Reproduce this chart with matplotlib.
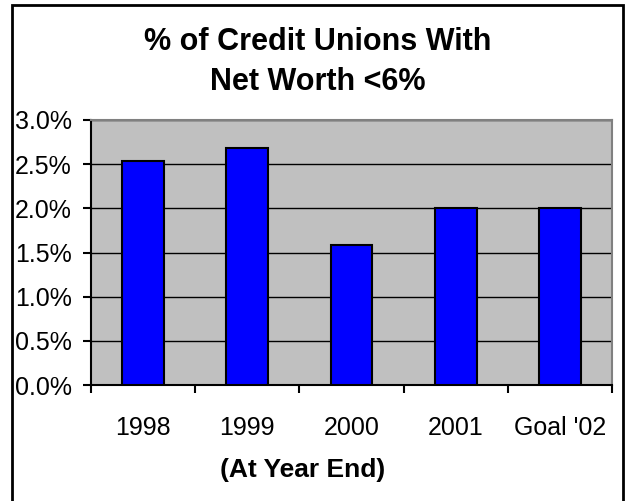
import matplotlib.pyplot as plt
from matplotlib.patches import Rectangle
from matplotlib.ticker import FuncFormatter

# share of credit unions below 6% net worth, by year end
years = ["1998", "1999", "2000", "2001", "Goal '02"]
pct_below_6 = [2.54, 2.68, 1.59, 2.0, 2.0]
y_ticks = [0.0, 0.5, 1.0, 1.5, 2.0, 2.5, 3.0]

plt.rcParams["font.family"] = ["Liberation Sans", "DejaVu Sans"]

fig = plt.figure(figsize=(6.26, 5.01), dpi=100)
ax = fig.add_axes([0.1454, 0.2315, 0.8323, 0.529])
ax.set_facecolor("#C0C0C0")

x = range(len(years))
ax.bar(x, pct_below_6, width=0.4, color="#0000FF", edgecolor="black",
       linewidth=1.5, zorder=3)

ax.set_ylim(0, 3.0)
ax.set_xlim(-0.5, len(years) - 0.5)
ax.set_yticks(y_ticks)
ax.yaxis.set_major_formatter(FuncFormatter(lambda v, p: f"{v:.1f}%"))
ax.yaxis.grid(True, color="black", linewidth=1.0, zorder=1)
ax.set_axisbelow(True)

# category labels in the middle, tick marks on the boundaries
ax.set_xticks([i - 0.5 for i in range(len(years) + 1)])
ax.set_xticklabels([])
ax.set_xticks(list(x), minor=True)
ax.set_xticklabels(years, minor=True)
ax.tick_params(axis="x", which="major", direction="out", length=6, width=1.5)
ax.tick_params(axis="x", which="minor", length=0, pad=22, labelsize=18)
ax.tick_params(axis="y", direction="out", length=6, width=1.5, pad=8,
               labelsize=18)

for side in ("left", "bottom"):
    ax.spines[side].set_color("black")
    ax.spines[side].set_linewidth(1.5)
for side in ("top", "right"):
    ax.spines[side].set_color("#808080")
    ax.spines[side].set_linewidth(1.5)

ax.set_xlabel("(At Year End)", fontsize=19, fontweight="bold")
ax.xaxis.set_label_coords(0.407, -0.276)

fig.text(0.507, 0.876, "% of Credit Unions With\nNet Worth <6%",
         ha="center", va="center", fontsize=22, fontweight="bold",
         linespacing=1.45)

# chart border
fig.patches.append(Rectangle((11.5 / 626, -0.05), 611 / 626, 1.05 - 5.5 / 501,
                             transform=fig.transFigure, fill=False,
                             edgecolor="black", linewidth=2.0))

fig.savefig("out.png", dpi=100)
